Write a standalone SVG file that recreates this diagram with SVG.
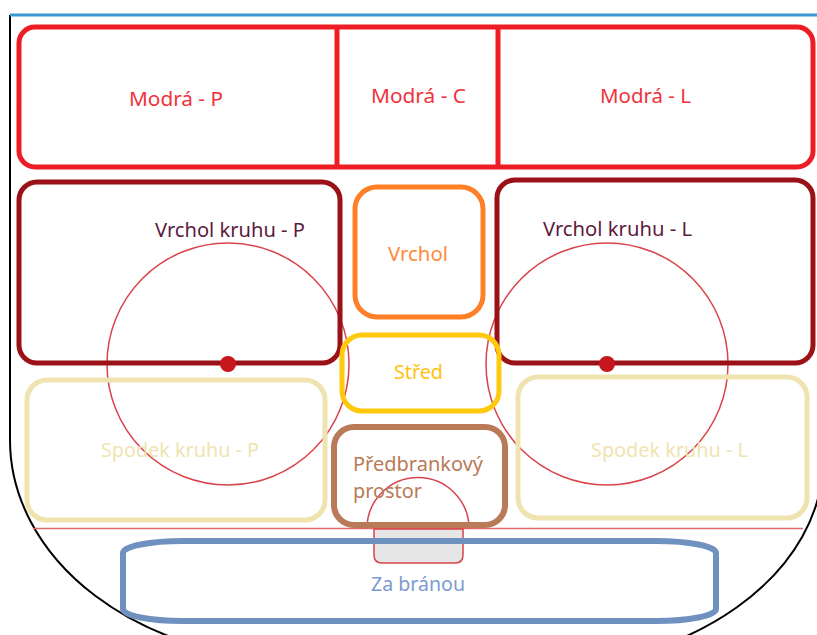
<svg xmlns="http://www.w3.org/2000/svg" width="817" height="635" viewBox="0 0 817 635">
  <style>
    .zone { fill: none; }
    .lbl { font-family: "Noto Sans", "Open Sans", sans-serif; font-size: 20px; }
    .faceoff { fill: none; stroke: #d9434a; stroke-width: 1.5; }
    .dot { fill: #c8161e; }
  </style>
  <rect width="817" height="635" fill="#ffffff"/>

  <!-- rink outline -->
  <g id="rink">
    <path d="M10,15 V440 A290,220 0 0 0 300,660" fill="none" stroke="#000" stroke-width="2"/>
    <path d="M823,15 V460 A300,210 0 0 1 527,670" fill="none" stroke="#000" stroke-width="2"/>
    <line x1="10" y1="15" x2="817" y2="15" stroke="#3a97d2" stroke-width="3"/>
    <!-- goal line -->
    <line x1="33" y1="528.5" x2="803" y2="528.5" stroke="#e06a6a" stroke-width="1.5"/>
    <!-- faceoff circles -->
    <circle class="faceoff" cx="228" cy="364" r="121"/>
    <circle class="faceoff" cx="607" cy="364" r="121"/>
    <!-- goal crease -->
    <path d="M367,528.5 A51,51 0 0 1 469,528.5" fill="none" stroke="#d9434a" stroke-width="1.5"/>
    <!-- goal net -->
    <path d="M374,529 H463 V555 Q463,563 455,563 H382 Q374,563 374,555 Z" fill="#e6e6e6" stroke="#d9434a" stroke-width="1.5"/>
  </g>

  <g id="modra">
    <rect class="zone" x="19" y="27" width="794" height="140" rx="16" stroke="#ee1c25" stroke-width="5"/>
    <line x1="337" y1="27" x2="337" y2="167" stroke="#ee1c25" stroke-width="5"/>
    <line x1="498" y1="27" x2="498" y2="167" stroke="#ee1c25" stroke-width="5"/>
  </g>
  <g id="modra-p"><text class="lbl" x="129" y="106" textLength="94" lengthAdjust="spacingAndGlyphs" fill="#f0323c">Modrá - P</text></g>
  <g id="modra-c"><text class="lbl" x="371" y="103" textLength="95" lengthAdjust="spacingAndGlyphs" fill="#f0323c">Modrá - C</text></g>
  <g id="modra-l"><text class="lbl" x="600" y="103" textLength="91" lengthAdjust="spacingAndGlyphs" fill="#f0323c">Modrá - L</text></g>

  <g id="vrchol-kruhu-p">
    <rect class="zone" x="19" y="182" width="321" height="181" rx="18" stroke="#9b1118" stroke-width="5"/>
    <circle class="dot" cx="228" cy="364" r="8"/>
    <text class="lbl" x="155" y="237" textLength="150" lengthAdjust="spacingAndGlyphs" fill="#5e1a3e">Vrchol kruhu - P</text>
  </g>

  <g id="vrchol-kruhu-l">
    <rect class="zone" x="497" y="180" width="316" height="183" rx="18" stroke="#9b1118" stroke-width="5"/>
    <circle class="dot" cx="607" cy="364" r="8"/>
    <text class="lbl" x="543" y="236" textLength="149" lengthAdjust="spacingAndGlyphs" fill="#5e1a3e">Vrchol kruhu - L</text>
  </g>

  <g id="vrchol">
    <rect class="zone" x="355" y="187" width="128" height="130" rx="22" stroke="#ff7f27" stroke-width="5"/>
    <text class="lbl" x="388" y="261" textLength="60" lengthAdjust="spacingAndGlyphs" fill="#ff8a3a">Vrchol</text>
  </g>

  <g id="stred">
    <rect class="zone" x="342" y="335" width="157" height="76" rx="20" stroke="#ffc90e" stroke-width="5"/>
    <text class="lbl" x="394" y="379" textLength="49" lengthAdjust="spacingAndGlyphs" fill="#ffc20e">Střed</text>
  </g>

  <g id="spodek-kruhu-p">
    <rect class="zone" x="27" y="380" width="298" height="140" rx="20" stroke="#efe4b0" stroke-width="5"/>
    <text class="lbl" x="101" y="457" textLength="158" lengthAdjust="spacingAndGlyphs" fill="#efe4b0">Spodek kruhu - P</text>
  </g>

  <g id="spodek-kruhu-l">
    <rect class="zone" x="518" y="377" width="289" height="141" rx="20" stroke="#efe4b0" stroke-width="5"/>
    <text class="lbl" x="591" y="457" textLength="157" lengthAdjust="spacingAndGlyphs" fill="#efe4b0">Spodek kruhu - L</text>
  </g>

  <g id="predbrankovy-prostor">
    <rect class="zone" x="334" y="427" width="171" height="98" rx="20" stroke="#b97a57" stroke-width="6"/>
    <text class="lbl" x="353" y="471" textLength="130" lengthAdjust="spacingAndGlyphs" fill="#b97a57">Předbrankový</text>
    <text class="lbl" x="353" y="498" textLength="69" lengthAdjust="spacingAndGlyphs" fill="#b97a57">prostor</text>
  </g>

  <g id="za-branou">
    <rect class="zone" x="123" y="541" width="593" height="80" rx="60" ry="12" stroke="#6f91c0" stroke-width="6"/>
    <text class="lbl" x="371" y="591" textLength="94" lengthAdjust="spacingAndGlyphs" fill="#7b9bcf">Za bránou</text>
  </g>

  <g id="connectors"></g>
</svg>
